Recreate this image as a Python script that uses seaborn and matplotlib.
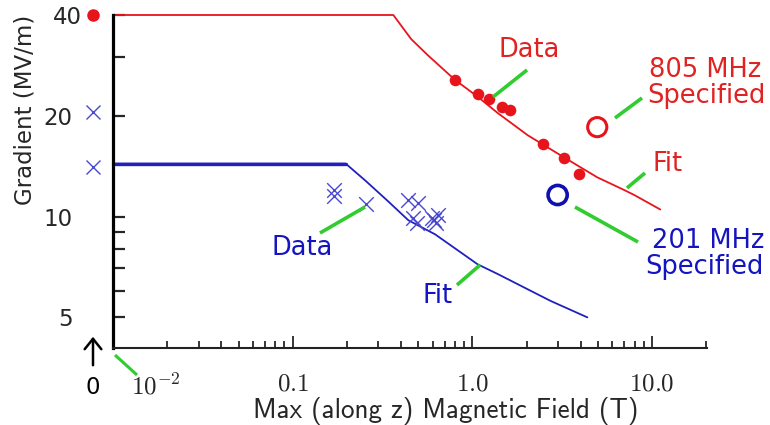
import numpy as np
import pandas as pd
import matplotlib
matplotlib.use("Agg")
import matplotlib.pyplot as plt
import matplotlib.transforms as mtransforms
from matplotlib.ticker import FixedLocator, NullFormatter
import seaborn as sns

# ---------------- data ----------------
# 805 MHz fit (B in T, gradient in MV/m)
red_fit_B = [0.01, 0.363, 0.456, 0.566, 0.80, 1.07, 1.38, 2.03, 3.25, 4.95, 7.0, 7.95, 11.1]
red_fit_G = [40, 40, 33.9, 30.3, 25.6, 22.8, 20.4, 17.5, 15.0, 13.1, 12.0, 11.6, 10.5]
# 805 MHz data
red_data_B = [0.80, 1.07, 1.23, 1.47, 1.61, 2.46, 3.25, 3.94]
red_data_G = [25.6, 23.3, 22.4, 21.3, 20.8, 16.5, 15.0, 13.4]
red_B0_G = [40]                 # measured at B = 0
red_spec_B = [4.95]
red_spec_G = [18.5]

# 201 MHz fit
blue_fit_B = [0.01, 0.197, 0.254, 0.34, 0.44, 0.62, 1.07, 1.38, 2.72, 4.36]
blue_fit_G = [14.4, 14.4, 12.8, 11.1, 9.75, 8.85, 7.2, 6.74, 5.6, 5.0]
# 201 MHz data
blue_data_B = [0.169, 0.169, 0.257, 0.440, 0.499, 0.468, 0.493, 0.597, 0.628, 0.644, 0.610]
blue_data_G = [12.0, 11.5, 10.9, 11.2, 11.0, 9.9, 9.56, 9.9, 9.6, 10.1, 9.75]
blue_B0_G = [20.5, 14.1]         # measured at B = 0
blue_spec_B = [2.98]
blue_spec_G = [11.6]

x_ticks = [0.01, 0.1, 1.0, 10.0]
x_ticklabels = [r"$10^{-2}$", r"$0.1$", r"$1.0$", r"$10.0$"]
y_ticks = [5, 10, 20, 40]
y_ticklabels = ["5", "10", "20", "40"]
y_minor = [6, 7, 8, 9, 30]

# ---------------- style ----------------
sns.set_style("white")
plt.rcParams["font.family"] = ["DejaVu Sans"]
plt.rcParams["mathtext.fontset"] = "cm"

RED = "#e8141c"
RED_TXT = "#e02222"
BLUE_LINE = "#2020c0"
BLUE_X = "#4848d0"
BLUE_TXT = "#1414c0"
GREEN = "#30cc30"

W, H = 770, 425
fig = plt.figure(figsize=(W / 100, H / 100), dpi=100)
L, R, T, B = 113, 707, 15, 348
ax = fig.add_axes([L / W, 1 - B / H, (R - L) / W, (B - T) / H])
ax.set_xscale("log")
ax.set_yscale("log")

red_fit = pd.DataFrame({"B": red_fit_B, "G": red_fit_G})
blue_fit = pd.DataFrame({"B": blue_fit_B, "G": blue_fit_G})
red_data = pd.DataFrame({"B": red_data_B, "G": red_data_G})
blue_data = pd.DataFrame({"B": blue_data_B, "G": blue_data_G})

sns.lineplot(data=red_fit, x="B", y="G", ax=ax, color=RED, lw=1.3,
             estimator=None, sort=False, clip_on=False)
sns.lineplot(data=blue_fit, x="B", y="G", ax=ax, color=BLUE_LINE, lw=1.3,
             estimator=None, sort=False, clip_on=False)
sns.lineplot(data=blue_fit.iloc[:2], x="B", y="G", ax=ax, color=BLUE_LINE, lw=2.4,
             estimator=None, sort=False, clip_on=False)

sns.scatterplot(data=red_data, x="B", y="G", ax=ax, color=RED, s=70,
                edgecolor=RED, linewidth=0, zorder=5)
sns.scatterplot(data=blue_data, x="B", y="G", ax=ax, color=BLUE_X, s=110,
                marker="x", linewidth=1.0, zorder=5)
sns.scatterplot(x=red_spec_B, y=red_spec_G, ax=ax, s=190, marker="o",
                facecolor="none", edgecolor=RED, linewidth=2.2, zorder=5)
sns.scatterplot(x=blue_spec_B, y=blue_spec_G, ax=ax, s=190, marker="o",
                facecolor="none", edgecolor="#1010b0", linewidth=2.6, zorder=5)

# points measured at B = 0, drawn left of the axis
blend = mtransforms.blended_transform_factory(ax.transAxes, ax.transData)
x0 = (93 - L) / (R - L)
ax.plot([x0] * len(red_B0_G), red_B0_G, "o", color=RED, ms=8, mec=RED,
        transform=blend, clip_on=False)
ax.plot([x0] * len(blue_B0_G), blue_B0_G, "x", color=BLUE_X, ms=10, mew=1.0,
        transform=blend, clip_on=False)

ax.set_xlim(0.01, 20.2)
ax.set_ylim(4.05, 40)

# axes styling
for s in ["top", "right"]:
    ax.spines[s].set_visible(False)
ax.spines["left"].set_linewidth(2.3)
ax.spines["bottom"].set_linewidth(1.5)
ax.spines["left"].set_color("black")
ax.spines["bottom"].set_color("#222222")

ax.set_xticks(x_ticks)
ax.set_xticklabels(x_ticklabels, fontsize=18)
ax.xaxis.set_minor_locator(FixedLocator(
    [m * 10.0 ** e for e in (-2, -1, 0) for m in range(2, 10)] + [20]))
ax.xaxis.set_minor_formatter(NullFormatter())
ax.set_yticks(y_ticks)
ax.set_yticklabels(y_ticklabels, fontsize=16.5)
ax.yaxis.set_minor_locator(FixedLocator(y_minor))
ax.yaxis.set_minor_formatter(NullFormatter())

ax.tick_params(axis="x", which="major", direction="in", length=8.5, width=1.3, pad=17)
ax.tick_params(axis="x", which="minor", direction="in", length=5, width=1.3)
ax.tick_params(axis="y", which="both", direction="in", length=8.5, width=1.6, pad=29)
ax.tick_params(axis="both", which="both", bottom=True, left=True)

# shift a couple of tick labels like in the reference
lbl = ax.get_xticklabels()[0]
lbl.set_transform(lbl.get_transform() + mtransforms.ScaledTranslation(43 / 100, -2 / 100, fig.dpi_scale_trans))
lbl = ax.get_yticklabels()[3]
lbl.set_transform(lbl.get_transform() + mtransforms.ScaledTranslation(9 / 100, 0, fig.dpi_scale_trans))

ax.set_xlabel("Max (along z) Magnetic Field (T)", fontsize=19.5, family="cmss10", labelpad=0)
ax.xaxis.set_label_coords(0.5 + (446 - (L + R) / 2) / (R - L), (B - 411) / (B - T))
ax.xaxis.label.set_va("center")
ax.set_ylabel("Gradient (MV/m)", fontsize=16.5)
ax.yaxis.label.set_va("center")
ax.yaxis.set_label_coords((25 - L) / (R - L), (B - 110) / (B - T))


# ---------------- annotations (reference pixel positions) ----------------
def fp(px, py):
    return (px / W, 1 - py / H)


def text(px, py, s, color, size=18.5):
    fig.text(*fp(px, py), s, color=color, fontsize=size, ha="center", va="center")


def seg(p1, p2, color=GREEN, lw=2.6):
    (x1, y1), (x2, y2) = fp(*p1), fp(*p2)
    fig.add_artist(plt.Line2D([x1, x2], [y1, y2], color=color, lw=lw,
                              transform=fig.transFigure, solid_capstyle="butt"))


text(529, 50, "Data", RED_TXT)
seg((527, 70), (493, 97))
text(705, 70, "805 MHz", RED_TXT)
text(706, 96, "Specified", RED_TXT)
seg((642, 98), (615, 118))
text(668, 164, "Fit", RED_TXT)
seg((645, 173), (627, 188))

text(708, 241, "201 MHz", BLUE_TXT)
text(704, 267, "Specified", BLUE_TXT)
seg((575, 207), (638, 242))
text(302, 248, "Data", BLUE_TXT)
seg((320, 233), (365, 207))
text(438, 296, "Fit", BLUE_TXT)
seg((457, 285), (480, 265))

# "0" at the origin with arrow and the 10^-2 leader
text(93, 388, "0", "black", size=16.5)
fig.add_artist(matplotlib.patches.FancyArrowPatch(
    fp(93, 368), fp(93, 334), transform=fig.transFigure, arrowstyle="->,head_width=4,head_length=5",
    color="black", lw=1.8, mutation_scale=1.5))
seg((115, 355), (137, 375), lw=2.2)

fig.savefig("out.png", dpi=100)
